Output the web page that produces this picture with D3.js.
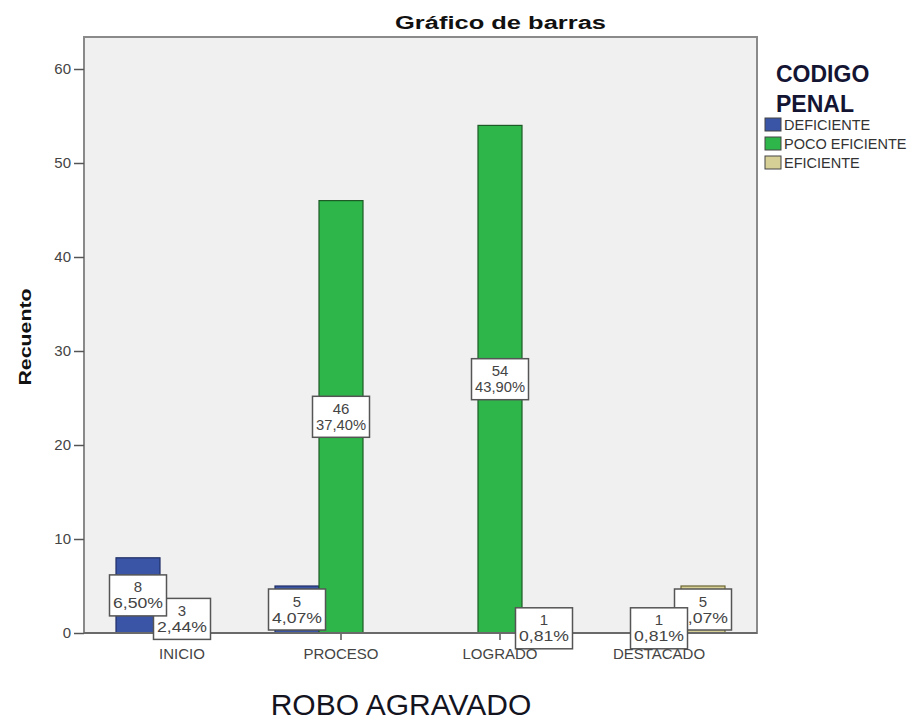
<!DOCTYPE html>
<html>
<head>
<meta charset="utf-8">
<script src="https://cdn.jsdelivr.net/npm/d3@7"></script>
<style>
  html, body { margin: 0; padding: 0; background: #ffffff; }
  svg { display: block; }
  text { font-family: "Liberation Sans", Arial, sans-serif; }
</style>
</head>
<body>
<svg id="chart" width="918" height="721"></svg>
<script>
// ---- data ----
const categories = ["INICIO", "PROCESO", "LOGRADO", "DESTACADO"];
const seriesNames = ["DEFICIENTE", "POCO EFICIENTE", "EFICIENTE"];
const deficiente = [8, 5, 0, 0];
const pocoEficiente = [3, 46, 54, 1];
const eficiente = [0, 0, 1, 5];
const yTicks = [0, 10, 20, 30, 40, 50, 60];
const seriesColors = ["#3a55a6", "#2eb64a", "#d6d096"];
const seriesStrokes = ["#1f2e66", "#1d5a26", "#6b6433"];

const seriesValues = [deficiente, pocoEficiente, eficiente];
const total = d3.sum(seriesValues.flat());

const svg = d3.select("#chart");
const frame = { left: 84, right: 757, top: 37, bottom: 633 };

const x = d3.scaleBand().domain(categories).range([102.5, 738.5]).padding(0);
const xs = d3.scaleBand().domain(seriesNames).range([-66, 66]).padding(0);
const y = d3.scaleLinear().domain([0, 50]).range([frame.bottom, 163]);

// plot background / frame
svg.append("rect")
  .attr("x", frame.left).attr("y", frame.top)
  .attr("width", frame.right - frame.left).attr("height", frame.bottom - frame.top)
  .attr("fill", "#f0f0f0").attr("stroke", "#8a8a8a").attr("stroke-width", 2);

// title
svg.append("text")
  .attr("x", 395).attr("y", 29)
  .attr("font-size", 18).attr("font-weight", "bold").attr("fill", "#111")
  .attr("textLength", 211).attr("lengthAdjust", "spacingAndGlyphs")
  .text("Gráfico de barras");

// y axis
const yAxis = d3.axisLeft(y).tickValues(yTicks).tickSize(10).tickPadding(3).tickFormat(d3.format("d"));
const gy = svg.append("g").attr("transform", `translate(${frame.left},0)`).call(yAxis);
gy.select(".domain").remove();
gy.selectAll(".tick line").attr("stroke", "#555").attr("stroke-width", 1.5);
gy.selectAll(".tick text").attr("font-size", 15).attr("fill", "#444")
  .attr("font-family", "'Liberation Sans', Arial, sans-serif");

svg.append("text")
  .attr("transform", `translate(31,${337}) rotate(-90)`)
  .attr("text-anchor", "middle")
  .attr("font-size", 17).attr("font-weight", "bold").attr("fill", "#111")
  .attr("textLength", 97).attr("lengthAdjust", "spacingAndGlyphs")
  .text("Recuento");

// x axis
const xAxis = d3.axisBottom(x).tickSize(7).tickPadding(8);
const gx = svg.append("g").attr("transform", `translate(0,${frame.bottom})`).call(xAxis);
gx.select(".domain").remove();
gx.selectAll(".tick line").attr("stroke", "#555").attr("stroke-width", 1.5);
gx.selectAll(".tick text").attr("font-size", 15).attr("fill", "#444")
  .attr("font-family", "'Liberation Sans', Arial, sans-serif");

svg.append("text")
  .attr("x", 401).attr("y", 715)
  .attr("text-anchor", "middle")
  .attr("font-size", 30).attr("fill", "#14141f")
  .text("ROBO AGRAVADO");

// bars
const barData = [];
seriesNames.forEach((s, si) => {
  categories.forEach((c, ci) => {
    const v = seriesValues[si][ci];
    if (v > 0) barData.push({ s, si, c, v });
  });
});

svg.append("g").selectAll("rect").data(barData).join("rect")
  .attr("x", d => x(d.c) + x.bandwidth() / 2 + xs(d.s))
  .attr("y", d => y(d.v))
  .attr("width", xs.bandwidth())
  .attr("height", d => y(0) - y(d.v))
  .attr("fill", d => seriesColors[d.si])
  .attr("stroke", d => seriesStrokes[d.si])
  .attr("stroke-width", 1.2);

// bottom frame line drawn over bars
svg.append("line")
  .attr("x1", frame.left).attr("x2", frame.right)
  .attr("y1", frame.bottom).attr("y2", frame.bottom)
  .attr("stroke", "#6a6a6a").attr("stroke-width", 2);

// labels (first series drawn last -> on top)
const boxW = 57, boxH = 41;
const labelG = svg.append("g");
const labels = labelG.selectAll("g").data(barData.slice().reverse()).join("g")
  .attr("transform", d => {
    const cx = x(d.c) + x.bandwidth() / 2 + xs(d.s) + xs.bandwidth() / 2;
    const cy = (y(d.v) + y(0)) / 2;
    return `translate(${cx},${cy})`;
  });
labels.append("rect")
  .attr("x", -boxW / 2).attr("y", -boxH / 2)
  .attr("width", boxW).attr("height", boxH)
  .attr("fill", "#ffffff").attr("stroke", "#555").attr("stroke-width", 1.5);
labels.append("text")
  .attr("text-anchor", "middle").attr("y", -3)
  .attr("font-size", 15).attr("fill", "#444")
  .text(d => d.v);
labels.append("text")
  .attr("text-anchor", "middle").attr("y", 13)
  .attr("font-size", 15).attr("fill", "#444")
  .attr("textLength", 50).attr("lengthAdjust", "spacingAndGlyphs")
  .text(d => (d.v / total * 100).toFixed(2).replace(".", ",") + "%");

// legend
svg.append("text").attr("x", 776).attr("y", 82)
  .attr("font-size", 23).attr("font-weight", "bold").attr("fill", "#141433")
  .text("CODIGO");
svg.append("text").attr("x", 776).attr("y", 112)
  .attr("font-size", 23).attr("font-weight", "bold").attr("fill", "#141433")
  .text("PENAL");

const leg = svg.append("g").selectAll("g").data(seriesNames).join("g")
  .attr("transform", (d, i) => `translate(765,${118 + i * 19})`);
leg.append("rect")
  .attr("width", 16).attr("height", 13)
  .attr("fill", (d, i) => seriesColors[i])
  .attr("stroke", "#444").attr("stroke-width", 1);
leg.append("text")
  .attr("x", 19).attr("y", 12)
  .attr("font-size", 14.5).attr("fill", "#333")
  .text(d => d);
</script>
</body>
</html>
